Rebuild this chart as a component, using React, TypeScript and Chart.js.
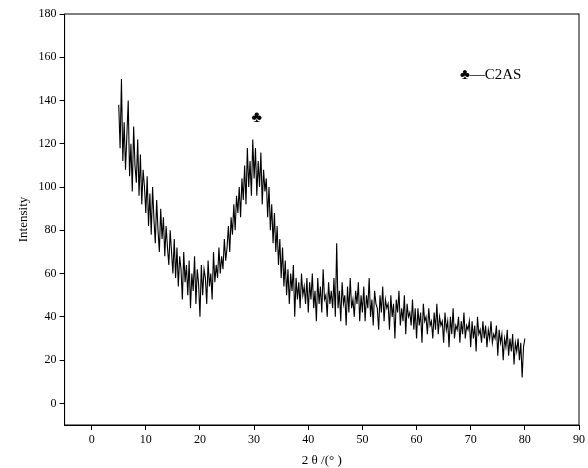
import React, { useEffect, useRef } from "react";
import { Chart, registerables } from "chart.js";
Chart.register(...registerables);

const X_START = 5;
const X_STEP = 0.25;
const intensity: number[] = [
  138,118,150,112,130,108,124,140,105,120,98,128,110,102,122,96,115,92,108,100,
  88,105,82,97,78,100,85,74,94,80,70,90,76,86,68,82,72,64,80,70,
  60,76,58,72,54,68,62,48,70,56,64,50,66,44,60,52,68,46,62,55,
  40,64,50,62,58,46,66,54,60,48,70,56,64,58,72,60,68,62,76,66,
  72,82,70,86,78,92,80,96,88,100,86,104,94,110,92,118,100,112,96,122,
  104,118,96,112,100,116,92,108,98,104,86,100,80,92,74,88,70,82,64,76,
  58,72,54,66,50,62,46,60,52,64,40,58,48,56,44,60,50,54,46,58,
  42,56,48,60,44,52,38,58,46,54,42,62,48,50,40,56,46,52,44,58,
  40,74,44,52,38,56,46,50,36,54,42,58,44,48,40,52,46,56,38,50,
  42,54,38,50,44,58,40,48,36,52,46,44,34,50,42,54,38,48,44,46,
  34,50,40,46,30,48,42,52,36,44,38,50,32,46,40,42,36,48,34,44,
  30,44,36,42,28,46,38,40,32,44,36,38,30,42,34,46,32,40,36,38,
  28,42,34,38,26,40,32,44,30,36,34,40,28,38,32,42,30,36,34,38,
  26,38,30,36,24,40,32,34,28,38,30,36,26,34,30,38,28,32,30,36,
  22,34,28,32,20,30,26,34,22,30,24,32,18,28,24,30,20,28,12,26,30,
];
const peakMark = { x: 30.5, y: 132, text: "♣" };
const legendMark = { x: 68, y: 152, text: "♣—C2AS" };

const FONT = "'Liberation Serif', 'DejaVu Serif', serif";

export default function App() {
  const ref = useRef<HTMLCanvasElement>(null);
  useEffect(() => {
    const pts = intensity.map((v, i) => ({ x: X_START + i * X_STEP, y: v }));
    const overlay = {
      id: "overlay",
      afterDraw(chart: any) {
        const { ctx, chartArea: a, scales } = chart;
        ctx.save();
        ctx.strokeStyle = "#000";
        ctx.lineWidth = 1;
        ctx.strokeRect(a.left, a.top, a.right - a.left, a.bottom - a.top);
        ctx.fillStyle = "#000";
        ctx.textBaseline = "middle";
        ctx.font = `16px ${FONT}`;
        ctx.textAlign = "center";
        ctx.fillText(peakMark.text, scales.x.getPixelForValue(peakMark.x), scales.y.getPixelForValue(peakMark.y));
        ctx.textAlign = "left";
        ctx.font = `15px ${FONT}`;
        ctx.fillText(legendMark.text, scales.x.getPixelForValue(legendMark.x), scales.y.getPixelForValue(legendMark.y));
        ctx.restore();
      },
    };
    const grid = { display: true, drawOnChartArea: false, drawTicks: true, tickLength: 5, color: "#000" };
    const chart = new Chart(ref.current!, {
      type: "line",
      data: {
        datasets: [{ data: pts, borderColor: "#000", borderWidth: 1.1, pointRadius: 0, tension: 0 }],
      },
      options: {
        animation: false,
        responsive: true,
        maintainAspectRatio: false,
        plugins: { legend: { display: false }, tooltip: { enabled: false } },
        layout: { padding: { top: 14, right: 7, left: 12, bottom: 0 } },
        scales: {
          x: {
            type: "linear", min: -5, max: 90,
            afterBuildTicks: (s: any) => { s.ticks = [0,10,20,30,40,50,60,70,80,90].map(v => ({ value: v })); },
            grid, border: { color: "#000" },
            ticks: { color: "#000", font: { family: FONT, size: 12 }, maxRotation: 0 },
            title: { display: true, text: "2 θ /(° )", color: "#000", font: { family: FONT, size: 13 }, padding: { top: 2, bottom: 0 } },
          },
          y: {
            type: "linear", min: -10, max: 180,
            afterBuildTicks: (s: any) => { s.ticks = [0,20,40,60,80,100,120,140,160,180].map(v => ({ value: v })); },
            grid, border: { color: "#000" },
            ticks: { color: "#000", font: { family: FONT, size: 12 } },
            title: { display: true, text: "Intensity", color: "#000", font: { family: FONT, size: 13 } },
          },
        },
      },
      plugins: [overlay],
    });
    return () => chart.destroy();
  }, []);
  return (
    <div style={{ position: "absolute", left: 0, top: 0, width: 588, height: 468, background: "#fff" }}>
      <canvas ref={ref} />
    </div>
  );
}
